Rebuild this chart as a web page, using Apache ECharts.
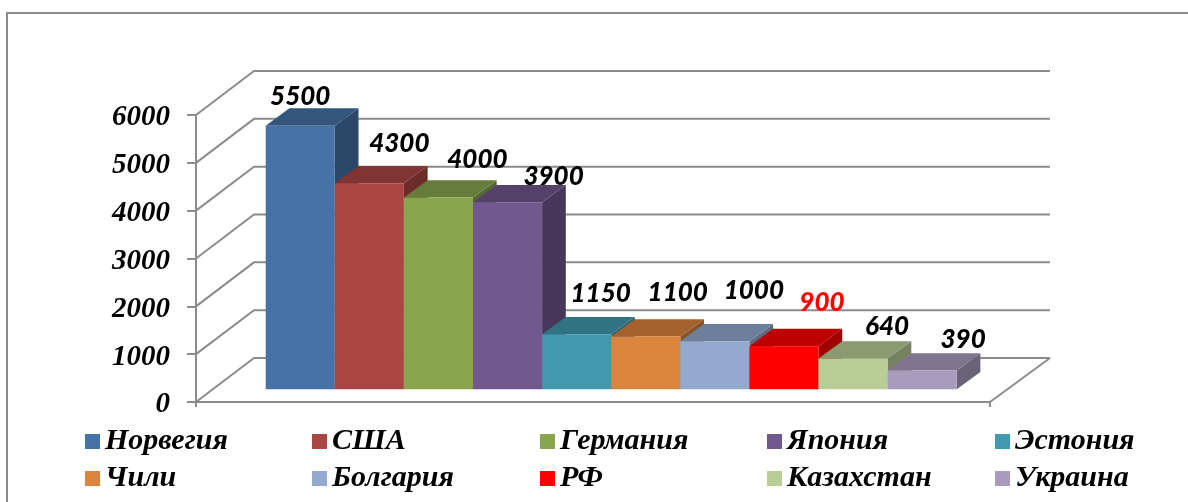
<!DOCTYPE html>
<html><head><meta charset="utf-8">
<style>html,body{margin:0;padding:0;background:#fff}#c{width:1188px;height:502px}</style>
<script src="https://cdn.jsdelivr.net/npm/echarts@6/dist/echarts.min.js"></script>
</head><body><div id="c"></div>
<script>
const categories = ['Норвегия','США','Германия','Япония','Эстония','Чили','Болгария','РФ','Казахстан','Украина'];
const values = [5500,4300,4000,3900,1150,1100,1000,900,640,390];
const colors = ['#4572A7','#AA4643','#89A54E','#71588F','#4198AF','#DB843D','#93A9CF','#FF0000','#B9CD96','#A99BBD'];
const yTicks = [0,1000,2000,3000,4000,5000,6000];
const labelShift = [[0,-29],[30,-40],[39,-38],[46,-26],[24,-41],[32,-44],[39,-51],[38,-44],[34,-32],[41,-31]];
const legendColumns = [[0,5],[1,6],[2,7],[3,8],[4,9]];
const legendLeft = [85,312,540,767,995];

const GREY = '#8c8c8c';
const WALL = [58,-44];
const BAR_DEPTH = [23.7,-17.3];
const shade = (hex,k)=>{
  const n=parseInt(hex.slice(1),16);
  return 'rgb('+[(n>>16)&255,(n>>8)&255,n&255].map(c=>Math.round(c*k)).join(',')+')';
};

const wallSeries = {
  type:'custom', name:'wall', coordinateSystem:'cartesian2d', xAxisIndex:0, yAxisIndex:0,
  data:yTicks.map(v=>[0,v]), silent:true,
  renderItem(p,api){
    const a=api.coord([0,api.value(1)]);
    const children=[{type:'polyline',shape:{points:[a,[a[0]+WALL[0],a[1]+WALL[1]],[1050,a[1]+WALL[1]]]},
      style:{stroke:GREY,lineWidth:2,fill:null}}];
    if(api.value(1)===0){
      const b=api.coord([1,0]);
      children.push({type:'line',shape:{x1:b[0],y1:b[1],x2:1050,y2:b[1]+WALL[1]},style:{stroke:GREY,lineWidth:2}});
    }
    return {type:'group',children};
  }
};

const barSeries = categories.map((name,i)=>({
  type:'custom', name, coordinateSystem:'cartesian2d', xAxisIndex:1, yAxisIndex:1,
  itemStyle:{color:colors[i]}, silent:true,
  data:[[i,values[i]]],
  renderItem(p,api){
    const idx=api.value(0), v=api.value(1);
    const w=api.size([1,0])[0];
    const t=api.coord([idx,v]), b=api.coord([idx,0]);
    const x0=t[0]-w/2, x1=t[0]+w/2, dx=BAR_DEPTH[0], dy=BAR_DEPTH[1];
    const c=colors[i];
    const poly=(pts,fill)=>({type:'polygon',shape:{points:pts},style:{fill}});
    return {type:'group',children:[
      poly([[x1,t[1]],[x1+dx,t[1]+dy],[x1+dx,b[1]+dy],[x1,b[1]]],shade(c,0.63)),
      poly([[x0,t[1]],[x0+dx,t[1]+dy],[x1+dx,t[1]+dy],[x1,t[1]]],shade(c,0.75)),
      poly([[x0,t[1]],[x1,t[1]],[x1,b[1]],[x0,b[1]]],c)
    ]};
  }
}));

const labelSeries = {
  type:'custom', name:'labels', coordinateSystem:'cartesian2d', xAxisIndex:1, yAxisIndex:1,
  data:values.map((v,i)=>[i,v]), silent:true,
  renderItem(p,api){
    const i=api.value(0), v=api.value(1);
    const t=api.coord([i,v]);
    return {type:'text',style:{
      x:t[0]+labelShift[i][0], y:t[1]+labelShift[i][1], text:String(v),
      align:'center', verticalAlign:'middle',
      font:'italic 900 26px Lato', fill:categories[i]==='РФ'?'#ff0000':'#000'
    }};
  }
};

const chart = echarts.init(document.getElementById('c'),null,{renderer:'canvas'});
chart.setOption({
  animation:false,
  backgroundColor:'#fff',
  graphic:[{type:'polyline',silent:true,shape:{points:[[7,502],[7,13],[1188,13]]},style:{stroke:GREY,lineWidth:2,fill:null}}],
  legend:legendColumns.map((col,k)=>({
    data:col.map(i=>categories[i]),
    orient:'vertical', left:legendLeft[k], top:424,
    itemWidth:15, itemHeight:15, itemGap:2, icon:'rect', selectedMode:false, padding:0,
    textStyle:{fontFamily:'Liberation Serif',fontStyle:'italic',fontWeight:'bold',fontSize:30,color:'#000',lineHeight:30,padding:[5,0,0,0]}
  })),
  grid:[
    {left:196,top:115,width:794,height:287},
    {left:265.7,top:101.7,width:691,height:287.6}
  ],
  xAxis:[
    {gridIndex:0,type:'value',min:0,max:1,interval:1,splitLine:{show:false},axisLabel:{show:false},
     axisLine:{lineStyle:{color:GREY,width:2}},axisTick:{length:5,lineStyle:{color:GREY,width:2}}},
    {gridIndex:1,type:'category',data:categories,show:false}
  ],
  yAxis:[
    {gridIndex:0,type:'value',min:0,max:6000,interval:1000,splitLine:{show:false},
     axisLine:{show:true,lineStyle:{color:GREY,width:2}},axisTick:{show:true,length:9,lineStyle:{color:GREY,width:2}},
     axisLabel:{margin:26,formatter:v=>'{a|'+v+'}',
       rich:{a:{padding:[6,0,0,0],fontFamily:'Liberation Serif',fontStyle:'italic',fontWeight:'bold',fontSize:29,color:'#000'}}}},
    {gridIndex:1,type:'value',min:0,max:6000,show:false}
  ],
  series:[wallSeries,...barSeries,labelSeries]
});
</script></body></html>
